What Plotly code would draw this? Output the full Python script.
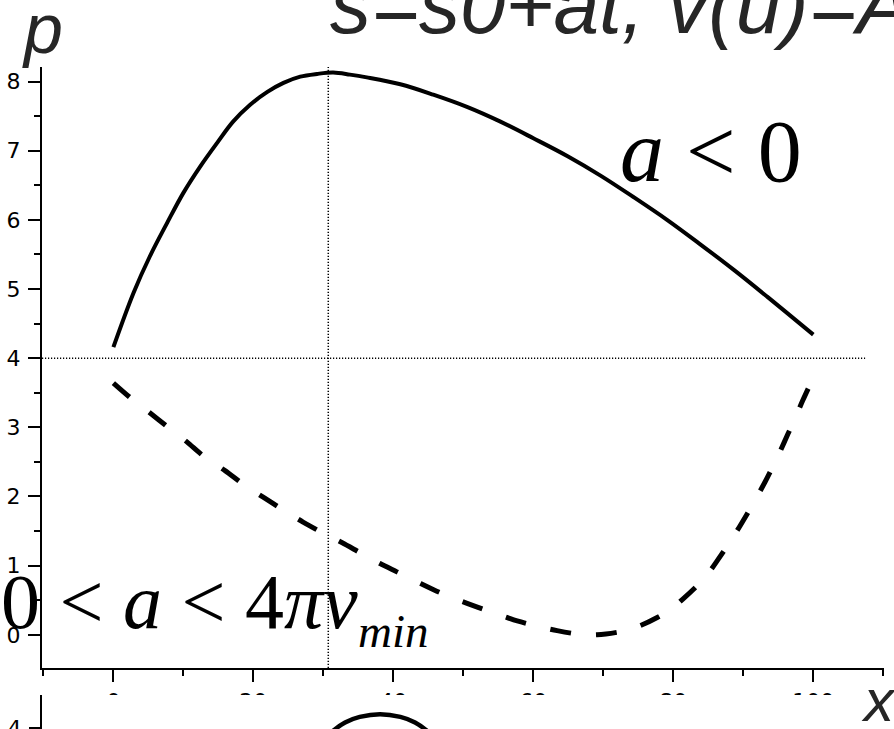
import plotly.graph_objects as go

# ---------------- data ----------------
x_solid = [0, 2.9, 5.2, 7.7, 10.0, 12.4, 14.8, 17.1, 19.5, 22.0, 24.3, 26.7, 29.1,
           31.4, 33.8, 36.2, 41.0, 45.7, 50.6, 55.3, 60.0, 64.9, 69.6, 74.3, 79.1,
           83.8, 88.6, 93.4, 100.0]
p_solid = [4.16, 4.95, 5.47, 5.96, 6.39, 6.77, 7.11, 7.42, 7.66, 7.85, 7.98, 8.07, 8.11,
           8.13, 8.10, 8.06, 7.96, 7.81, 7.63, 7.42, 7.18, 6.92, 6.64, 6.33, 6.00,
           5.65, 5.28, 4.89, 4.34]

x_dash = [0, 2.4, 5.2, 7.7, 10.5, 12.8, 16.0, 18.5, 21.4, 24.2, 27.1, 29.8, 32.7, 35.2,
          38.1, 40.5, 43.5, 46.2, 49.1, 52.0, 54.8, 57.7, 60.7, 63.4, 66.4, 69.1, 72.7,
          75.2, 77.7, 79.8, 81.4, 83.4, 85.0, 86.4, 87.8, 89.2, 90.5, 91.7, 93.1, 94.2,
          95.2, 96.4, 97.4, 98.5, 100.0]
p_dash = [3.64, 3.43, 3.21, 3.01, 2.79, 2.59, 2.37, 2.18, 1.99, 1.81, 1.63, 1.48, 1.33,
          1.19, 1.03, 0.91, 0.76, 0.63, 0.51, 0.40, 0.30, 0.20, 0.12, 0.06, 0.01, 0.00,
          0.05, 0.13, 0.25, 0.38, 0.52, 0.71, 0.89, 1.09, 1.30, 1.52, 1.74, 1.95, 2.21,
          2.43, 2.64, 2.91, 3.13, 3.39, 3.72]

# reference lines
h_ref_x = [-10.2, 107.4]
h_ref_p = [4, 4]
v_ref_x = [30.7, 30.7]
v_ref_p = [-0.48, 8.21]

# second (lower, cropped) panel
x_arc = [29.5, 31.4, 33.1, 35.2, 38.1, 41.0, 43.1, 44.8, 46.7]
p_arc = [3.77, 3.96, 4.08, 4.16, 4.20, 4.16, 4.08, 3.96, 3.77]

x_ticks = [0, 20, 40, 60, 80, 100]
x_ticktext = ["0", "20", "40", "60", "80", "100"]
y_ticks = [0, 1, 2, 3, 4, 5, 6, 7, 8]
y_ticktext = ["0", "1", "2", "3", "4", "5", "6", "7", "8"]
y2_ticks = [4]
y2_ticktext = ["4"]

title_text = "s=s0+at, v(u)=A"
label_neg = "<i>a</i> < 0"
label_pos = "0 < <i>a</i> < 4<i>πν</i>"
label_sub = "<i>min</i>"

X_RANGE = [-10.2, 110.1]
Y_RANGE = [-0.48, 8.21]
Y2_RANGE = [3.9855, 4.477]

W, H = 894, 729
ML, MR, MT, MB = 42, 10, 67, 0
PW, PH = W - ML - MR, H - MT - MB


def px_x(px):
    return (px - ML) / PW


def px_y(py):
    return (H - MB - py) / PH


fig = go.Figure()

dot_style = dict(color="black", width=1.5, dash="1.2px,1.8px")
fig.add_trace(go.Scatter(x=h_ref_x, y=h_ref_p, mode="lines", line=dot_style,
                         xaxis="x", yaxis="y", showlegend=False))
fig.add_trace(go.Scatter(x=v_ref_x, y=v_ref_p, mode="lines", line=dot_style,
                         xaxis="x", yaxis="y", showlegend=False))
fig.add_trace(go.Scatter(x=x_solid, y=p_solid, mode="lines",
                         line=dict(color="black", width=4, shape="spline", smoothing=1.0),
                         xaxis="x", yaxis="y", showlegend=False))
fig.add_trace(go.Scatter(x=x_dash, y=p_dash, mode="lines",
                         line=dict(color="black", width=5, dash="21px,25px",
                                   shape="spline", smoothing=0.8),
                         xaxis="x", yaxis="y", showlegend=False))
fig.add_trace(go.Scatter(x=x_arc, y=p_arc, mode="lines",
                         line=dict(color="black", width=4.5, shape="spline"),
                         xaxis="x2", yaxis="y2", showlegend=False))

axis_common = dict(showline=True, linewidth=2, linecolor="black", ticks="outside",
                   tickwidth=2, tickcolor="black", showgrid=False, zeroline=False,
                   tickfont=dict(family="DejaVu Sans", size=22, color="black"),
                   ticklabeloverflow="allow", mirror=False, automargin=False)

main_domain_bottom = px_y(668)
y2_top = px_y(695)

fig.update_layout(
    width=W, height=H,
    margin=dict(l=ML, r=MR, t=MT, b=MB, pad=0, autoexpand=False),
    paper_bgcolor="white", plot_bgcolor="white",
    showlegend=False,
    xaxis=dict(range=X_RANGE, domain=[0, 1], anchor="y",
               tickmode="array", tickvals=x_ticks, ticktext=x_ticktext, ticklen=12,
               minor=dict(dtick=10, tick0=0, ticks="outside", ticklen=6, tickwidth=1.5,
                          tickcolor="black"),
               ticklabelstandoff=1,
               **axis_common),
    yaxis=dict(range=Y_RANGE, domain=[main_domain_bottom, 1], anchor="x",
               tickmode="array", tickvals=y_ticks, ticktext=y_ticktext, ticklen=12,
               minor=dict(dtick=0.5, tick0=0, ticks="outside", ticklen=6, tickwidth=1.5,
                          tickcolor="black"),
               ticklabelstandoff=3,
               **axis_common),
    xaxis2=dict(range=X_RANGE, domain=[0, 1], anchor="y2", visible=False,
                automargin=False),
    yaxis2=dict(range=Y2_RANGE, domain=[0, y2_top], anchor="x2",
                tickmode="array", tickvals=y2_ticks, ticktext=y2_ticktext, ticklen=11,
                ticklabelstandoff=3,
                **axis_common),
    shapes=[
        # white background of the lower (cropped) panel, hides the clipped tick labels
        dict(type="rect", xref="x2", yref="y2", x0=X_RANGE[0], x1=X_RANGE[1],
             y0=Y2_RANGE[0] - 1, y1=Y2_RANGE[1] + 1, fillcolor="white",
             line=dict(width=0), layer="below"),
    ],
)

ann_common = dict(xref="paper", yref="paper", showarrow=False, borderpad=0,
                  xanchor="left", yanchor="middle")

fig.add_annotation(text="<i>p</i>", x=px_x(21), y=px_y(53 - 0.3465 * 70),
                   font=dict(family="Liberation Sans", size=70, color="#262626"),
                   **ann_common)
fig.add_annotation(text=f"<i>{title_text}</i>", x=px_x(329), y=px_y(33 - 0.3465 * 82),
                   font=dict(family="Liberation Sans", size=82, color="#262626"),
                   **ann_common)
fig.add_annotation(text="<i>x</i>", x=px_x(860), y=px_y(721 - 0.3465 * 60),
                   font=dict(family="Liberation Sans", size=60, color="#262626"),
                   **ann_common)
fig.add_annotation(text=label_neg, x=px_x(619), y=px_y(181 - 0.3375 * 88),
                   font=dict(family="Liberation Serif", size=88, color="black"),
                   **ann_common)
fig.add_annotation(text=label_pos, x=px_x(0), y=px_y(628 - 0.3375 * 78),
                   font=dict(family="Liberation Serif", size=78, color="black"),
                   **ann_common)
fig.add_annotation(text=label_sub, x=px_x(357), y=px_y(647 - 0.3375 * 47),
                   font=dict(family="Liberation Serif", size=47, color="black"),
                   **ann_common)

fig.write_html("out.html")
